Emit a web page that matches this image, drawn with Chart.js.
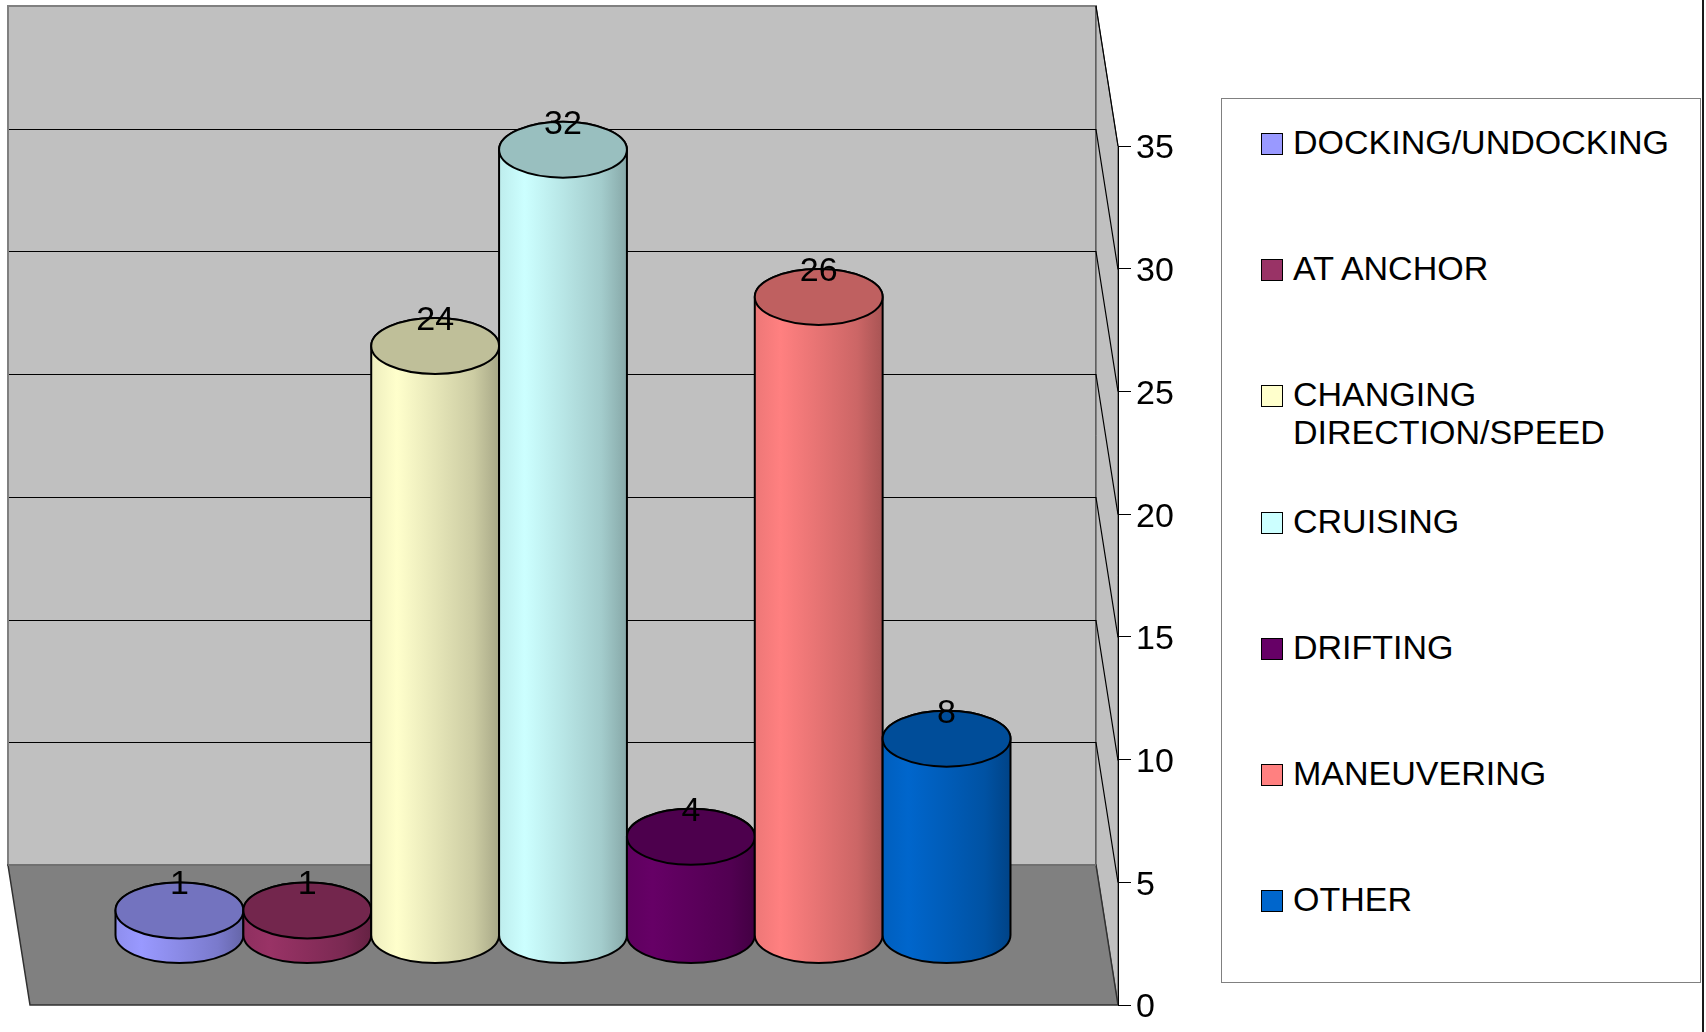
<!DOCTYPE html>
<html>
<head>
<meta charset="utf-8">
<script src="https://cdn.jsdelivr.net/npm/chart.js@4/dist/chart.umd.min.js"></script>
<style>
html, body { margin: 0; padding: 0; background: #fff; }
#wrap { position: relative; width: 1706px; height: 1032px; overflow: hidden; }
#frameRight { position: absolute; left: 1702px; top: 0; width: 2px; height: 1032px; background: #1a1a1a; }
#legend {
    position: absolute; left: 1221px; top: 98px; width: 480px; height: 885px;
    box-sizing: border-box; border: 1px solid #808080; background: #fff;
    font-family: "Liberation Sans", Arial, sans-serif; font-size: 34px; color: #000;
}
#legend .item { position: absolute; left: 39px; }
#legend .box { position: absolute; left: 0; top: 10px; width: 20px; height: 20px; border: 1px solid #000; }
#legend .txt { position: absolute; left: 32px; top: 0; line-height: 38px; white-space: nowrap; }
</style>
</head>
<body>
<div id="wrap">
    <canvas id="phases" width="1706" height="1032"></canvas>
    <div id="legend"></div>
    <div id="frameRight"></div>
</div>
<script>
/*jshint esversion: 6 */
const categories = [''];
const seriesNames = [
    'DOCKING/UNDOCKING', 'AT ANCHOR', 'CHANGING\nDIRECTION/SPEED', 'CRUISING',
    'DRIFTING', 'MANEUVERING', 'OTHER'
];
const seriesValues = [1, 1, 24, 32, 4, 26, 8];
const seriesColors = ['#9999FF', '#993366', '#FFFFCC', '#CCFFFF', '#660066', '#FF8080', '#0066CC'];
const yTicks = [0, 5, 10, 15, 20, 25, 30, 35];

// oblique depth of the 3d box (back wall offset from the front plane)
const DEPTH_DX = -22;
const DEPTH_DY = -140;
const FONT = '"Liberation Sans", Arial, sans-serif';

function rgb(hex) {
    const n = parseInt(hex.slice(1), 16);
    return [(n >> 16) & 255, (n >> 8) & 255, n & 255];
}
function shade(hex, f) {
    const c = rgb(hex);
    return 'rgb(' + c.map(v => Math.round(Math.min(255, v * f))).join(',') + ')';
}

function poly(ctx, pts) {
    ctx.beginPath();
    ctx.moveTo(pts[0][0], pts[0][1]);
    for (let i = 1; i < pts.length; i++) {
        ctx.lineTo(pts[i][0], pts[i][1]);
    }
    ctx.closePath();
}

function drawCylinder(ctx, cx, yb, yt, rx, ry, color) {
    const g = ctx.createLinearGradient(cx - rx, 0, cx + rx, 0);
    g.addColorStop(0, shade(color, 0.93));
    g.addColorStop(0.2, shade(color, 1.0));
    g.addColorStop(0.5, shade(color, 0.9));
    g.addColorStop(0.8, shade(color, 0.8));
    g.addColorStop(1, shade(color, 0.66));

    ctx.beginPath();
    ctx.moveTo(cx - rx, yt);
    ctx.lineTo(cx - rx, yb);
    ctx.ellipse(cx, yb, rx, ry, 0, Math.PI, 0, true);
    ctx.lineTo(cx + rx, yt);
    ctx.ellipse(cx, yt, rx, ry, 0, 0, Math.PI, true);
    ctx.closePath();
    ctx.fillStyle = g;
    ctx.fill();
    ctx.lineWidth = 2;
    ctx.strokeStyle = '#000';
    ctx.stroke();

    ctx.beginPath();
    ctx.ellipse(cx, yt, rx, ry, 0, 0, Math.PI * 2);
    ctx.fillStyle = shade(color, 0.75);
    ctx.fill();
    ctx.stroke();
}

const box3d = {
    id: 'box3d',
    beforeDraw(chart) {
        const ctx = chart.ctx;
        const a = chart.chartArea;
        const y = chart.scales.y;
        const L = a.left, R = a.right;
        const y0 = y.getPixelForValue(0);
        const yTop = y.getPixelForValue(y.max);

        ctx.save();
        // back wall
        poly(ctx, [[L + DEPTH_DX, yTop + DEPTH_DY], [R + DEPTH_DX, yTop + DEPTH_DY],
                   [R + DEPTH_DX, y0 + DEPTH_DY], [L + DEPTH_DX, y0 + DEPTH_DY]]);
        ctx.fillStyle = '#C0C0C0';
        ctx.fill();
        ctx.lineWidth = 2;
        ctx.strokeStyle = '#808080';
        ctx.stroke();

        // side wall
        poly(ctx, [[R + DEPTH_DX, yTop + DEPTH_DY], [R, yTop], [R, y0], [R + DEPTH_DX, y0 + DEPTH_DY]]);
        ctx.fillStyle = '#C0C0C0';
        ctx.fill();
        ctx.lineWidth = 1;
        ctx.strokeStyle = '#404040';
        ctx.stroke();

        // floor
        poly(ctx, [[L + DEPTH_DX, y0 + DEPTH_DY], [R + DEPTH_DX, y0 + DEPTH_DY], [R, y0], [L, y0]]);
        ctx.fillStyle = '#808080';
        ctx.fill();
        ctx.strokeStyle = '#303030';
        ctx.lineWidth = 1.5;
        ctx.stroke();
        ctx.beginPath();
        ctx.moveTo(L + DEPTH_DX, y0 + DEPTH_DY);
        ctx.lineTo(R + DEPTH_DX, y0 + DEPTH_DY);
        ctx.strokeStyle = '#707070';
        ctx.lineWidth = 2;
        ctx.stroke();

        // grid lines on back and side walls
        ctx.lineWidth = 1.2;
        ctx.strokeStyle = '#000';
        y.ticks.forEach(t => {
            if (t.value <= 0 || t.value >= y.max) return;
            const py = Math.round(y.getPixelForValue(t.value) + DEPTH_DY) + 0.5;
            ctx.beginPath();
            ctx.moveTo(L + DEPTH_DX + 1, py);
            ctx.lineTo(R + DEPTH_DX, py);
            ctx.lineTo(R, py - DEPTH_DY);
            ctx.stroke();
        });
        ctx.beginPath();
        ctx.moveTo(R + DEPTH_DX, yTop + DEPTH_DY);
        ctx.lineTo(R, yTop);
        ctx.stroke();
        ctx.restore();
    },
    beforeDatasetsDraw(chart) {
        const ctx = chart.ctx;
        const y = chart.scales.y;
        ctx.save();
        chart.data.datasets.forEach((ds, i) => {
            const el = chart.getDatasetMeta(i).data[0];
            const p = el.getProps(['x', 'width'], true);
            const rx = p.width / 2;
            const ry = 28;
            const cx = p.x + DEPTH_DX / 2;
            const yb = y.getPixelForValue(0) + DEPTH_DY / 2;
            const yt = y.getPixelForValue(ds.data[0]) + DEPTH_DY / 2;
            drawCylinder(ctx, cx, yb, yt, rx, ry, ds.backgroundColor);
        });
        chart.data.datasets.forEach((ds, i) => {
            const el = chart.getDatasetMeta(i).data[0];
            const p = el.getProps(['x', 'width'], true);
            const cx = p.x + DEPTH_DX / 2;
            const yt = y.getPixelForValue(ds.data[0]) + DEPTH_DY / 2;
            ctx.font = '34px ' + FONT;
            ctx.fillStyle = '#000';
            ctx.textAlign = 'center';
            ctx.textBaseline = 'alphabetic';
            ctx.fillText(String(ds.data[0]), cx, yt - 28 + 12);
        });
        ctx.restore();
        return false;
    }
};

const datasets = seriesNames.map((name, i) => ({
    label: name,
    data: [seriesValues[i]],
    backgroundColor: seriesColors[i],
    borderWidth: 0
}));

const chart = new Chart(document.getElementById('phases').getContext('2d'), {
    type: 'bar',
    data: { labels: categories, datasets: datasets },
    options: {
        responsive: false,
        animation: false,
        devicePixelRatio: 1,
        datasets: { bar: { categoryPercentage: 0.8226, barPercentage: 1.0 } },
        layout: { padding: { left: 30, top: 146, right: 518, bottom: 27 } },
        plugins: { legend: { display: false }, tooltip: { enabled: false } },
        scales: {
            x: { display: false },
            y: {
                position: 'right',
                min: 0,
                max: 35,
                afterBuildTicks: function(scale) {
                    scale.ticks = yTicks.map(v => ({ value: v }));
                },
                afterFit: function(scale) { scale.width = 70; },
                border: { display: true, color: '#000', width: 1 },
                grid: { display: true, drawOnChartArea: false, drawTicks: true, tickLength: 13, color: '#000' },
                ticks: { padding: 5, labelOffset: 3, color: '#000', font: { family: FONT, size: 34 } }
            }
        }
    },
    plugins: [box3d]
});

// legend built from the same series
const legend = document.getElementById('legend');
seriesNames.forEach((name, i) => {
    const item = document.createElement('div');
    item.className = 'item';
    item.style.top = (24 + i * 126.2) + 'px';
    const box = document.createElement('div');
    box.className = 'box';
    box.style.background = seriesColors[i];
    const txt = document.createElement('div');
    txt.className = 'txt';
    txt.innerHTML = name.split('\n').join('<br>');
    item.appendChild(box);
    item.appendChild(txt);
    legend.appendChild(item);
});
</script>
</body>
</html>
